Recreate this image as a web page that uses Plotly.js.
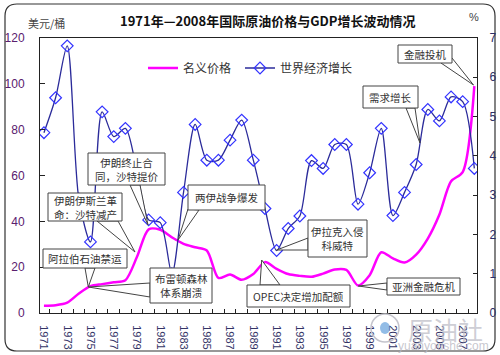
<!DOCTYPE html>
<html>
<head>
<meta charset="utf-8">
<script src="https://cdn.plot.ly/plotly-3.0.1.min.js"></script>
<style>html,body{margin:0;padding:0;background:#fff;}#chart{width:500px;height:355px;}</style>
</head>
<body>
<div id="chart"></div>
<script>
// ---- data ----
var years = [1971,1972,1973,1974,1975,1976,1977,1978,1979,1980,1981,1982,1983,1984,1985,1986,1987,1988,1989,1990,1991,1992,1993,1994,1995,1996,1997,1998,1999,2000,2001,2002,2003,2004,2005,2006,2007,2008];
var oilPrice = [3.2,3.4,4.5,8.5,11.7,12.6,13.4,14.3,24.5,36.5,36.3,33.0,30.2,28.7,27.3,15.3,16.8,14.5,17.0,22.2,19.3,17.0,16.2,15.8,17.2,19.0,18.8,12.0,16.5,26.5,23.8,22.0,25.5,32.5,43.0,57.5,61.5,99.0];
var gdpGrowth = [4.59,5.48,6.80,2.90,1.81,5.12,4.49,4.70,3.60,2.37,2.30,1.00,3.07,4.80,3.89,3.89,4.40,4.91,3.89,2.66,1.59,2.15,2.47,3.88,3.68,4.29,4.29,2.77,3.57,4.70,2.48,3.07,3.78,5.18,4.89,5.50,5.38,3.68];
var seriesNames = ['名义价格','世界经济增长'];
var xTickYears = [1971,1973,1975,1977,1979,1981,1983,1985,1987,1989,1991,1993,1995,1997,1999,2001,2003,2005,2007];
var notes = [
  {text:'金融投机', box:[398,45,452,63], base:[[441,63],[452,58]], tip:[473.5,85]},
  {text:'需求增长', box:[363,86,418,108], base:[[406,108],[415,108]], tip:[420,143]},
  {text:'伊朗终止合<br>同，沙特提价', box:[88,153,165,185], base:[[130,185],[140,185]], tip:[148,225]},
  {text:'伊朗伊斯兰革<br>命：沙特减产', box:[48,193,122,221], base:[[97,221],[118,221]], tip:[135,252]},
  {text:'阿拉伯石油禁运', box:[43,249,127,268], base:[[85,268],[95,268]], tip:[88.3,287]},
  {text:'布雷顿森林<br>体系崩溃', box:[150,268,212,303], base:[[150,283],[150,297]], tip:[88.3,287]},
  {text:'两伊战争爆发', box:[188,185,265,210], base:[[188,209],[199,210]], tip:[178,240]},
  {text:'伊拉克入侵<br>科威特', box:[308,220,367,257], base:[[308,238],[308,250]], tip:[276.7,250]},
  {text:'OPEC决定增加配额', box:[247,285,350,307], base:[[260,285],[280,285]], tip:[261.7,260]},
  {text:'亚洲金融危机', box:[387,278,460,295], base:[[387,283],[387,290]], tip:[358.3,286]}
];

// ---- layout helpers (pixel -> paper) ----
var L = 40, R = 477, T = 38, B = 313;
function X(px){ return (px - L) / (R - L); }
function Y(py){ return (B - py) / (B - T); }

var CJK = '"Noto Sans CJK SC", "Liberation Sans", sans-serif';
var shapes = [];
var annotations = [];

// outer rounded frame
(function(){
  var x0=5,x1=495,y0=4,y1=351,r=12;
  var p = 'M'+X(x0+r)+','+Y(y0)+' L'+X(x1-r)+','+Y(y0)+' Q'+X(x1)+','+Y(y0)+' '+X(x1)+','+Y(y0+r)+
          ' L'+X(x1)+','+Y(y1-r)+' Q'+X(x1)+','+Y(y1)+' '+X(x1-r)+','+Y(y1)+
          ' L'+X(x0+r)+','+Y(y1)+' Q'+X(x0)+','+Y(y1)+' '+X(x0)+','+Y(y1-r)+
          ' L'+X(x0)+','+Y(y0+r)+' Q'+X(x0)+','+Y(y0)+' '+X(x0+r)+','+Y(y0)+' Z';
  shapes.push({type:'path', xref:'paper', yref:'paper', path:p, line:{color:'#333', width:1.2}, fillcolor:'rgba(0,0,0,0)', layer:'below'});
})();

// watermark
shapes.push({type:'circle', xref:'paper', yref:'paper', x0:X(371), x1:X(399), y0:Y(342), y1:Y(314), line:{color:'#c4c4cc', width:1.5}, fillcolor:'rgba(0,0,0,0)', layer:'above'});
shapes.push({type:'circle', xref:'paper', yref:'paper', x0:X(380), x1:X(390), y0:Y(334), y1:Y(322), line:{color:'#7fb0dd', width:0}, fillcolor:'rgba(100,160,220,0.7)', layer:'above'});
annotations.push({xref:'paper', yref:'paper', x:X(445), y:Y(329), text:'原油社', showarrow:false, font:{family:CJK, size:25, color:'rgba(190,190,200,0.75)'}, xanchor:'center', yanchor:'middle'});
annotations.push({xref:'paper', yref:'paper', x:X(443), y:Y(346), text:'yuanyoushe.com', showarrow:false, font:{family:'"Liberation Sans", sans-serif', size:12, color:'rgba(185,185,195,0.8)'}, xanchor:'center', yanchor:'middle'});

// callouts
notes.forEach(function(n){
  var b = n.box;
  var p = 'M'+X(n.base[0][0])+','+Y(n.base[0][1])+' L'+X(n.tip[0])+','+Y(n.tip[1])+' L'+X(n.base[1][0])+','+Y(n.base[1][1])+' Z';
  shapes.push({type:'path', xref:'paper', yref:'paper', path:p, line:{color:'#444', width:1}, fillcolor:'#ffffff', layer:'above'});
  shapes.push({type:'rect', xref:'paper', yref:'paper', x0:X(b[0]), x1:X(b[2]), y0:Y(b[3]), y1:Y(b[1]), line:{color:'#444', width:1}, fillcolor:'#ffffff', layer:'above'});
  annotations.push({xref:'paper', yref:'paper', x:X((b[0]+b[2])/2), y:Y((b[1]+b[3])/2), text:n.text, showarrow:false,
    font:{family:CJK, size:10.5, color:'#333'}, xanchor:'center', yanchor:'middle', align:'center'});
});

// titles
annotations.push({xref:'paper', yref:'paper', x:X(267), y:Y(20), text:'<b>1971年—2008年国际原油价格与GDP增长波动情况</b>', showarrow:false, font:{family:CJK, size:13, color:'#111'}, xanchor:'center', yanchor:'middle'});
annotations.push({xref:'paper', yref:'paper', x:X(46), y:Y(23), text:'美元/桶', showarrow:false, font:{family:CJK, size:11, color:'#444'}, xanchor:'center', yanchor:'middle'});
annotations.push({xref:'paper', yref:'paper', x:X(474), y:Y(17), text:'%', showarrow:false, font:{family:'"Liberation Sans", sans-serif', size:11, color:'#444'}, xanchor:'center', yanchor:'middle'});

var traces = [
  {x:years, y:oilPrice, name:seriesNames[0], type:'scatter', mode:'lines', yaxis:'y', legend:'legend',
   line:{color:'#ff00ff', width:2.5, shape:'spline', smoothing:0.8}},
  {x:years, y:gdpGrowth, name:seriesNames[1], type:'scatter', mode:'lines+markers', yaxis:'y2', legend:'legend2',
   line:{color:'#2b2b9a', width:1.3, shape:'spline', smoothing:0.8},
   marker:{symbol:'diamond-open', size:9, color:'#3333ff', line:{width:1.2}}}
];

var legendFont = {family:CJK, size:12, color:'#333'};
var layout = {
  width:500, height:355,
  margin:{l:L, r:500-R, t:T, b:355-B},
  paper_bgcolor:'#ffffff', plot_bgcolor:'#ffffff',
  showlegend:true,
  legend:{orientation:'h', x:X(143), y:Y(68), xanchor:'left', yanchor:'middle', bgcolor:'rgba(0,0,0,0)', font:legendFont},
  legend2:{orientation:'h', x:X(240), y:Y(68), xanchor:'left', yanchor:'middle', bgcolor:'rgba(0,0,0,0)', font:legendFont},
  xaxis:{range:[1970.66, 2008.23], tickvals:xTickYears, ticktext:xTickYears.map(String), tickangle:90,
         ticks:'', showgrid:false, zeroline:false, showline:true, mirror:true, linecolor:'#222', linewidth:1,
         tickfont:{family:'"Liberation Sans", sans-serif', size:11, color:'#333366'}, ticklabelstandoff:9,
         minor:{tick0:1970.5, dtick:1, ticks:'inside', ticklen:4, tickcolor:'#222', showgrid:false}},
  yaxis:{range:[0,120], dtick:20, ticks:'inside', ticklen:5, tickcolor:'#222', showgrid:false, zeroline:false,
         showline:true, linecolor:'#222', linewidth:1, ticklabelstandoff:12,
         tickfont:{family:'"Liberation Sans", sans-serif', size:12, color:'#5a206e'}},
  yaxis2:{range:[0,7], dtick:1, overlaying:'y', side:'right', ticks:'inside', ticklen:4, tickcolor:'#222',
          showgrid:false, zeroline:false, showline:true, linecolor:'#222', linewidth:1, ticklabelstandoff:9,
          tickfont:{family:'"Liberation Sans", sans-serif', size:12, color:'#2e2e66'}},
  shapes:shapes,
  annotations:annotations
};

Plotly.newPlot('chart', traces, layout, {displayModeBar:false, staticPlot:true});
</script>
</body>
</html>
